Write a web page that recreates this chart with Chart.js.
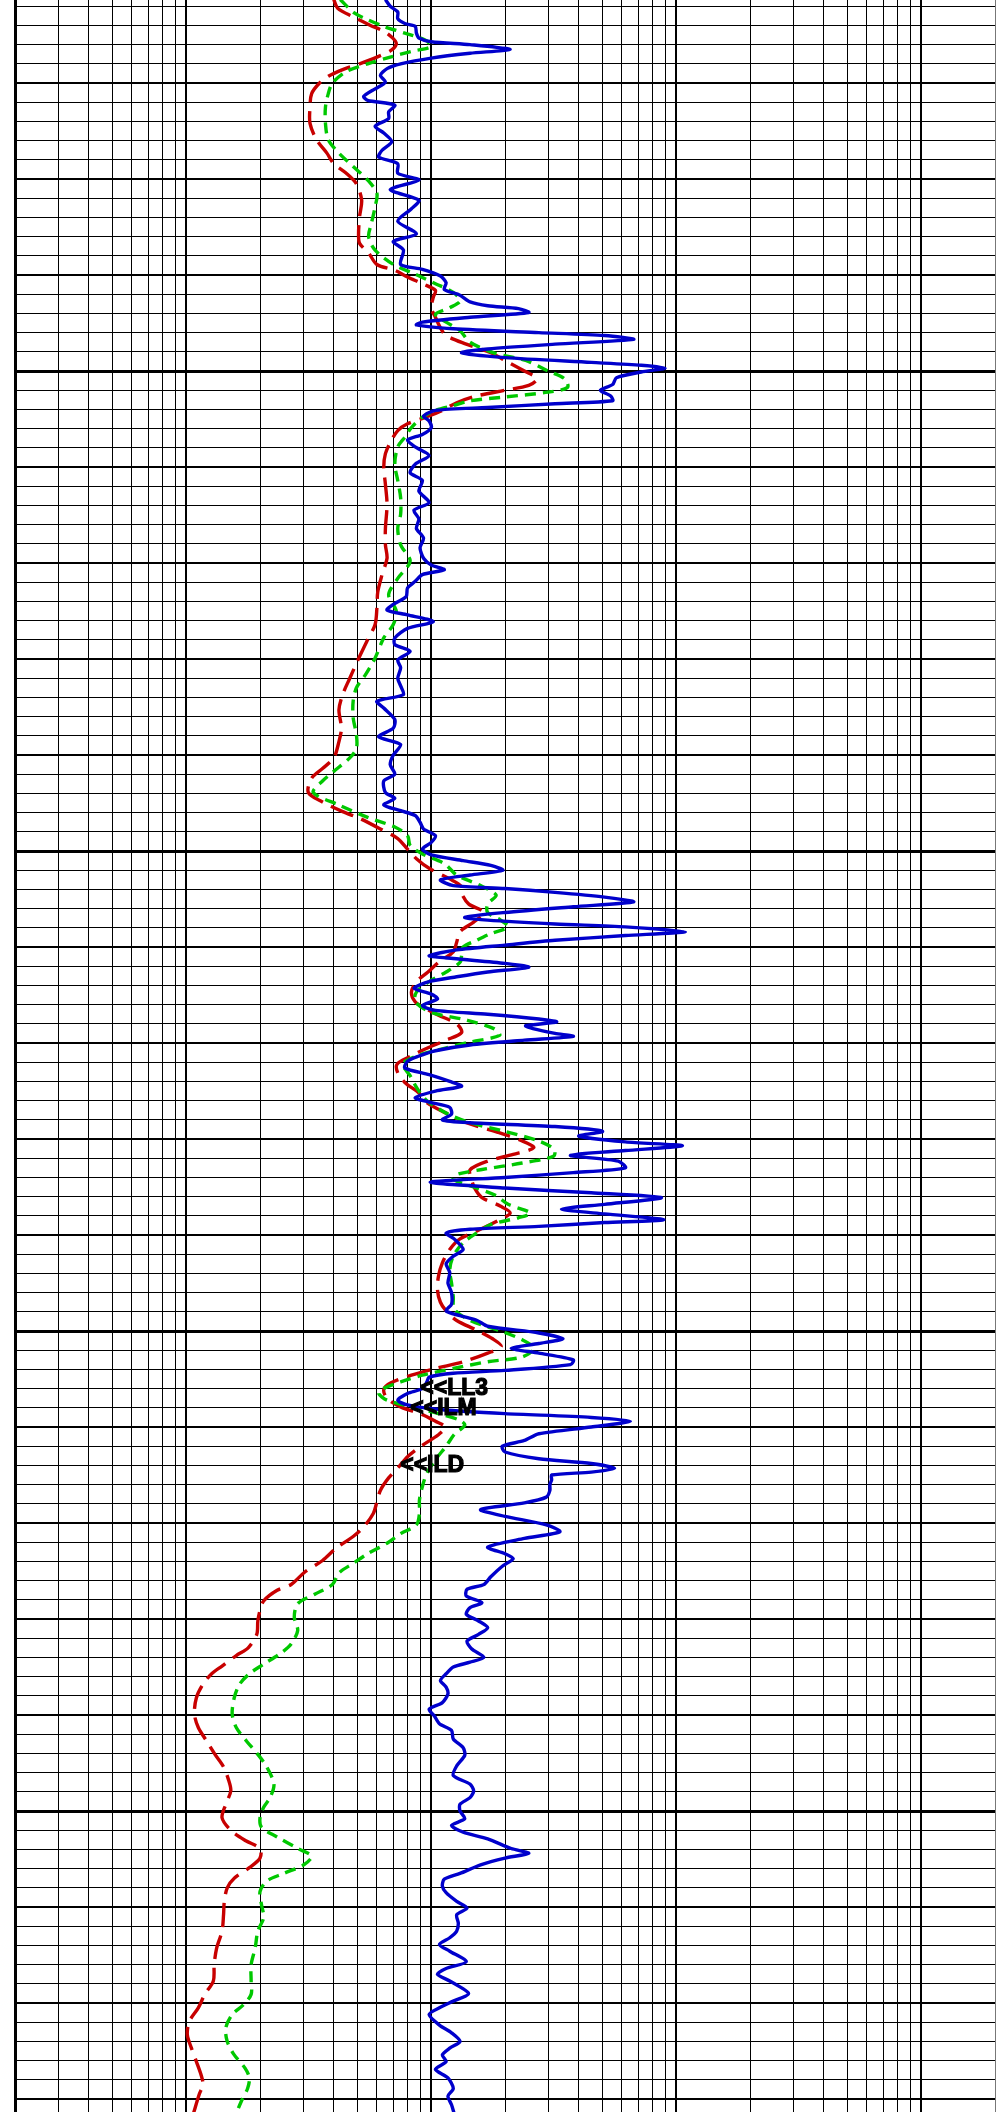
<!DOCTYPE html>
<html>
<head>
<meta charset="utf-8">
<script src="https://cdn.jsdelivr.net/npm/chart.js@4.4.1/dist/chart.umd.min.js"></script>
<style>
  html, body { margin: 0; padding: 0; background: #fff; }
  #wrap { width: 1003px; height: 2112px; position: relative; }
</style>
</head>
<body>
<div id="wrap"><canvas id="logChart"></canvas></div>
<script>
// Depth track (ft) and resistivity scale (ohm-m, log)
const depthTop = 4961.35;
const depthBottom = 5181.35;
const depthStep = 2;
const resMin = 0.2;
const resMax = 2000;
const resGrid = [0.2, 0.3, 0.4, 0.5, 0.6, 0.7, 0.8, 0.9,
  1, 2, 3, 4, 5, 6, 7, 8, 9,
  10, 20, 30, 40, 50, 60, 70, 80, 90,
  100, 200, 300, 400, 500, 600, 700, 800, 900,
  1000, 2000];

// LL3 - shallow laterolog
const ll3Depth = [4961.3, 4962.0, 4962.6, 4963.3, 4963.8, 4964.1, 4964.8, 4965.3, 4965.7, 4966.0,
  4966.5, 4966.9, 4967.4, 4968.0, 4968.5, 4969.2, 4969.9, 4970.6, 4971.4, 4971.8,
  4972.3, 4973.0, 4973.7, 4974.5, 4975.2, 4976.1, 4977.0, 4977.7, 4978.4, 4979.4,
  4980.1, 4981.1, 4982.2, 4983.1, 4984.4, 4985.7, 4986.5, 4987.4,
  4988.9, 4989.4, 4990.1, 4990.8, 4991.5, 4992.1, 4992.8, 4993.2, 4993.5, 4993.9,
  4994.4, 4994.9, 4995.2, 4995.6, 4996.0, 4996.3, 4996.7, 4997.2, 4997.7, 4998.1,
  4998.6, 4999.1, 4999.4, 4999.7, 5000.1, 5000.7, 5001.4, 5002.0, 5002.6, 5003.1,
  5003.4, 5003.8, 5004.1, 5004.7, 5005.2, 5005.9, 5006.6, 5007.2, 5007.9, 5008.8,
  5009.7, 5010.6, 5011.4, 5012.5, 5013.7, 5014.5, 5015.4,
  5016.4, 5017.4, 5018.4, 5019.5, 5020.2, 5020.7, 5021.2, 5021.9, 5022.6, 5023.5,
  5024.3, 5024.9, 5025.4, 5026.1, 5026.8, 5027.8, 5028.5, 5029.2, 5030.1, 5030.9,
  5032.0, 5032.8, 5033.7, 5034.4, 5035.1, 5036.3, 5037.2, 5038.1, 5038.9, 5040.0,
  5041.0, 5042.0, 5042.7,
  5043.9, 5044.5, 5045.2, 5045.8, 5046.3, 5047.0, 5047.7, 5048.4, 5049.1, 5049.8,
  5050.4, 5051.0, 5051.5, 5052.0, 5052.5, 5053.0, 5053.6, 5053.9, 5054.3, 5054.8,
  5055.3, 5055.8, 5056.4, 5056.9, 5057.2, 5057.6, 5057.9, 5058.4, 5058.8, 5059.3,
  5059.8, 5060.3, 5060.9, 5061.2, 5061.7, 5062.1, 5062.6, 5063.1, 5063.6, 5064.3,
  5064.9, 5065.4, 5066.1, 5066.6, 5067.0, 5067.5, 5067.8, 5068.2, 5068.5, 5069.0,
  5069.3, 5069.7, 5070.2, 5070.8,
  5071.4, 5071.9, 5072.6, 5073.3, 5074.0, 5074.5, 5075.0, 5075.7, 5076.2, 5076.7,
  5077.4, 5078.0, 5078.3, 5078.7, 5079.2, 5079.7, 5080.3, 5080.7, 5081.2, 5081.7,
  5082.3, 5083.0, 5083.5, 5084.0, 5084.5, 5085.1, 5085.6, 5086.1, 5086.8, 5087.3,
  5087.8, 5088.4, 5088.7, 5089.1, 5089.4, 5089.8, 5090.4, 5091.5, 5092.2, 5093.0,
  5093.9, 5095.0, 5096.0, 5097.2, 5097.9, 5098.4,
  5098.9, 5099.5, 5100.2, 5100.8, 5101.3, 5101.8, 5102.3, 5103.0, 5103.5, 5104.1,
  5104.4, 5104.8, 5105.3, 5106.0, 5106.5, 5107.2, 5107.7, 5108.2, 5108.6, 5109.0,
  5109.4, 5110.0, 5110.7, 5111.4, 5112.0, 5112.6, 5113.3, 5113.8, 5114.3, 5114.7,
  5115.0, 5115.5, 5116.0, 5116.6, 5117.3, 5117.9, 5118.6, 5119.3, 5120.2, 5120.9,
  5121.6, 5122.5, 5123.2, 5123.7, 5124.5, 5125.6,
  5126.4, 5126.9, 5127.6, 5128.3, 5128.8, 5129.5, 5130.2, 5130.9, 5131.6, 5132.3,
  5133.1, 5134.0, 5134.5, 5135.0, 5135.7, 5136.4, 5137.1, 5137.8, 5138.7, 5139.4,
  5140.1, 5140.9, 5141.6, 5142.5, 5143.4, 5144.2, 5145.3, 5146.3, 5147.2, 5147.9,
  5148.6, 5149.3, 5150.0, 5150.8, 5151.5, 5152.2, 5152.9,
  5153.9, 5154.4, 5154.9, 5155.6, 5156.5, 5157.1, 5157.8, 5158.5, 5159.4, 5160.1,
  5160.8, 5161.7, 5162.5, 5163.2, 5163.9, 5164.6, 5165.7, 5166.4, 5167.0, 5167.7,
  5169.0, 5169.8, 5170.5, 5171.2, 5172.3, 5173.1, 5174.0, 5174.7, 5175.4, 5176.1,
  5176.9, 5177.8, 5178.9, 5179.7, 5180.6, 5181.5];
const ll3Value = [6.5, 6.8, 7.3, 7.3, 7.8, 8.6, 8.7, 8.9, 10, 14.4,
  21, 14.4, 10, 7.5, 6.6, 6.2, 6.5, 5.9, 5.3, 5.5,
  7.1, 6.7, 6.7, 5.9, 6.4, 6.9, 6.3, 6.1, 7.3, 7.3,
  8.9, 6.8, 8.9, 8.3, 7.3, 8.7, 7.0, 7.7,
  7.5, 9.2, 10.9, 11.5, 11.3, 13.1, 14.4, 17, 22.7, 25,
  14.4, 9.2, 8.7, 12.3, 27.5, 51, 67, 32, 17, 13.3,
  20, 45, 72, 90, 72, 57, 55, 49, 54, 55,
  32, 17, 10.4, 9.3, 9.8, 10, 9.2, 8.0, 8.6, 9.8,
  8.6, 8.2, 9.2, 8.9, 9.8, 8.5, 8.9,
  8.7, 9.3, 9.0, 9.3, 10, 11.3, 9.2, 8.6, 8.0, 7.9,
  7.0, 6.6, 8.0, 10.2, 8.0, 7.1, 7.1, 8.2, 7.3, 7.5,
  7.3, 7.5, 7.7, 6.0, 6.4, 7.1, 7.0, 6.1, 7.5, 7.0,
  6.8, 7.1, 6.4,
  6.5, 7.1, 6.4, 7.5, 8.6, 9.0, 9.3, 10.4, 10, 9.2,
  10, 13.5, 17.5, 19.6, 14.4, 10.9, 12.3, 20, 32, 51,
  67, 38, 20, 13.7, 17, 32, 62, 109, 62, 32,
  20, 12.7, 9.8, 12.3, 20, 25, 17, 12.7, 9.8, 8.5,
  10, 10.6, 9.2, 10.4, 17, 27.5, 32.5, 24.3, 26, 32,
  38, 24, 14.4, 10.4,
  8.8, 8.0, 7.8, 9.8, 11.9, 13.3, 10.4, 8.6, 10, 11.9,
  12.1, 11.1, 14.4, 32, 50, 40, 62, 106, 62, 37,
  58, 62, 38, 20, 9.9, 20, 45, 87, 51, 34,
  51, 89, 51, 27.5, 14.4, 11.5, 12.4, 13.5, 12.3, 11.5,
  11.9, 11.7, 12.1, 12.1, 11.5, 13.1,
  15.4, 17, 27.5, 34.5, 27.5, 21.2, 27.5, 38, 37, 20,
  12.3, 9.8, 9.6, 9.2, 8.0, 7.3, 8.0, 11.1, 20, 45,
  65, 45, 27.5, 24, 19.5, 20, 27.5, 45, 56, 45,
  31, 31, 30.5, 30.5, 29.5, 24, 15.9, 20, 29.5, 33.5,
  24, 17, 20, 21.6, 19.5, 17.5,
  16.4, 14, 13.9, 16.1, 14.4, 13.9, 15.6, 17, 15.6, 14,
  14.6, 16.4, 14.4, 12.3, 11.5, 10.9, 11.5, 11.7, 11.1, 9.8,
  10.3, 10.8, 12.1, 12.3, 13.5, 13.7, 12.7, 12.3, 14.4, 14.9,
  14.4, 13.1, 13.1, 13.7, 12.1, 13.5, 17,
  21.2, 25, 20, 15.9, 13.1, 11.3, 11.1, 11.5, 12.7, 14,
  12.7, 12.9, 12.7, 11.9, 10.8, 11.9, 13.9, 11.5, 10.6, 11.9,
  14.2, 12.3, 10.8, 9.8, 10.8, 12.1, 13.1, 11.9, 11.1, 11.5,
  10.4, 11.7, 12.3, 11.7, 12.1, 12.4];

// ILM - medium induction
const ilmDepth = [4961.3, 4962.7, 4963.4, 4964.1, 4964.8, 4965.5, 4966.2, 4966.7, 4967.3, 4968.0,
  4968.8, 4970.0, 4971.1, 4972.5, 4974.2, 4975.9, 4977.3, 4978.7, 4980.1, 4981.5,
  4982.9, 4984.6, 4986.0, 4987.4,
  4988.9, 4989.9, 4990.9, 4991.8, 4992.7, 4993.4, 4994.1, 4994.9, 4995.8, 4997.0,
  4998.1, 4998.9, 5000.0, 5000.8, 5001.7, 5002.2, 5002.7, 5003.1, 5003.6, 5004.1,
  5004.8, 5005.9, 5006.9, 5007.9, 5009.7, 5011.4, 5013.2, 5014.9,
  5016.4, 5018.1, 5019.8, 5021.6, 5023.3, 5025.0, 5026.4, 5027.8, 5029.9, 5031.6,
  5033.0, 5034.4, 5036.1, 5037.9, 5039.3, 5040.3, 5041.7, 5042.7,
  5043.9, 5045.2, 5046.5, 5047.5, 5048.4, 5049.4, 5050.3, 5051.3, 5052.5, 5053.6,
  5054.6, 5055.5, 5056.4, 5057.2, 5057.9, 5058.6, 5059.3, 5060.0, 5060.9, 5061.6,
  5062.6, 5063.6, 5064.7, 5065.7, 5066.8, 5067.6, 5068.5, 5069.2, 5069.9, 5070.6,
  5071.4, 5072.2, 5073.4, 5074.6, 5075.9, 5077.3, 5078.3, 5079.2, 5080.2, 5081.1,
  5081.8, 5082.5, 5083.2, 5083.7, 5084.2, 5085.1, 5085.9, 5086.8, 5087.7, 5088.2,
  5088.9, 5089.8, 5090.8, 5092.2, 5093.6, 5095.0, 5096.4, 5097.7,
  5098.9, 5099.9, 5100.9, 5101.8, 5102.7, 5103.2, 5103.9, 5104.6, 5105.3, 5106.0,
  5106.5, 5107.2, 5107.9, 5108.6, 5109.3, 5109.8, 5110.8, 5112.0, 5113.4, 5114.8,
  5116.2, 5117.6, 5119.0, 5120.2, 5121.1, 5122.1, 5123.2, 5124.2, 5125.2,
  5126.4, 5127.4, 5128.4, 5129.8, 5131.2, 5132.6, 5133.6, 5134.7, 5135.7, 5136.8,
  5138.2, 5139.9, 5141.3, 5142.7, 5144.1, 5145.4, 5147.2, 5148.6, 5149.6, 5150.7,
  5151.7, 5152.7,
  5153.9, 5154.7, 5155.6, 5156.5, 5157.3, 5158.4, 5159.8, 5161.1, 5162.5, 5164.3,
  5166.0, 5167.7, 5169.1, 5170.2, 5171.2, 5172.6, 5174.0, 5175.4, 5176.8, 5177.8,
  5178.9, 5180.2, 5181.5];
const ilmValue = [4.25, 4.85, 5.5, 6.4, 7.8, 9.4, 10.0, 8.3, 6.8, 5.5,
  4.5, 3.95, 3.8, 3.7, 3.7, 3.8, 4.2, 4.8, 5.5, 6.0,
  5.9, 5.7, 5.55, 5.9,
  7.0, 8.6, 10.4, 12.3, 13.1, 11.9, 10.4, 11.5, 13.1, 14.4,
  18, 24.3, 30, 35, 36, 30, 20, 14.4, 12.3, 10.4,
  9.2, 8.3, 7.8, 7.3, 7.1, 7.3, 7.5, 7.5,
  7.3, 7.5, 8.2, 7.3, 6.7, 7.2, 7.0, 6.4, 5.9, 5.4,
  4.95, 4.8, 4.8, 4.95, 4.95, 4.65, 4.0, 3.6,
  3.3, 4.2, 5.5, 7.1, 8.0, 8.2, 9.2, 11.3, 12.7, 15.9,
  18.4, 17, 17, 19.2, 20.6, 17.5, 15.3, 13.5, 13.3, 13.1,
  11.5, 9.8, 8.7, 8.6, 10, 13.9, 18, 19, 14.4, 11.1,
  8.6, 7.65, 8.2, 8.7, 9.5, 11.5, 14.4, 20, 27.5, 31.8,
  31.5, 23.5, 15.9, 12.7, 12.3, 15.3, 18.4, 20.6, 25.4, 22.7,
  17.5, 15.3, 13.5, 12.3, 11.9, 12.1, 12.3, 12.4,
  14.4, 18.7, 23.5, 26.2, 23.5, 17, 12.3, 9.2, 7.5, 6.35,
  6.1, 6.6, 8.3, 10.7, 13.1, 13.7, 12.4, 11.5, 10.4, 9.6,
  9.2, 8.95, 8.95, 8.7, 7.5, 6.6, 5.5, 4.8, 4.2,
  3.95, 3.36, 2.85, 2.76, 2.85, 2.68, 2.42, 2.07, 1.81, 1.65,
  1.57, 1.54, 1.6, 1.76, 1.96, 2.13, 2.28, 2.2, 2.07, 2.0,
  2.03, 2.35,
  2.85, 3.25, 3.02, 2.5, 2.13, 2.0, 2.03, 2.07, 1.96, 1.91,
  1.84, 1.84, 1.84, 1.71, 1.54, 1.45, 1.47, 1.57, 1.74, 1.81,
  1.78, 1.68, 1.6];

// ILD - deep induction
const ildDepth = [4961.3, 4962.2, 4963.1, 4964.0, 4964.6, 4965.3, 4965.9, 4966.6, 4967.3, 4968.0,
  4968.6, 4969.3, 4970.0, 4971.1, 4972.5, 4974.2, 4975.9, 4977.3, 4978.4, 4979.4,
  4980.5, 4982.2, 4983.9, 4985.7, 4986.7, 4987.7,
  4988.9, 4989.5, 4990.2, 4990.9, 4991.6, 4992.3, 4993.4, 4994.4, 4995.5, 4996.3,
  4997.2, 4998.1, 4998.9, 5000.0, 5000.8, 5001.5, 5002.0, 5002.6, 5003.3, 5004.1,
  5004.8, 5005.5, 5006.2, 5007.3, 5008.6, 5010.0, 5011.8, 5013.9,
  5016.4, 5018.1, 5019.5, 5021.2, 5023.0, 5024.7, 5026.4, 5028.2, 5030.2, 5032.0,
  5033.7, 5035.3, 5037.2, 5038.6, 5040.3, 5041.4, 5042.4,
  5043.9, 5044.9, 5045.9, 5046.6, 5047.7, 5048.7, 5049.8, 5050.8, 5051.8, 5052.9,
  5053.7, 5054.4, 5055.5, 5056.4, 5057.4, 5058.4, 5059.5, 5060.5, 5061.6, 5062.6,
  5063.6, 5064.7, 5065.7, 5066.4, 5067.1, 5068.0, 5068.9, 5069.7, 5070.6,
  5071.4, 5072.2, 5073.1, 5074.1, 5075.2, 5076.2, 5077.3, 5078.3, 5079.3, 5080.2,
  5080.9, 5081.6, 5082.3, 5083.2, 5084.2, 5085.2, 5086.1, 5087.0, 5087.7, 5088.5,
  5089.6, 5090.4, 5091.5, 5092.9, 5094.3, 5095.7, 5097.0, 5097.9,
  5098.9, 5099.9, 5100.8, 5101.6, 5102.3, 5103.2, 5103.9, 5104.6, 5105.4, 5106.1,
  5107.0, 5107.9, 5108.7, 5109.4, 5110.0, 5110.8, 5111.9, 5113.1, 5114.1, 5115.3,
  5116.6, 5117.8, 5119.0, 5120.4, 5121.4, 5122.6, 5123.9, 5125.1,
  5126.4, 5127.0, 5128.1, 5129.1, 5130.2, 5131.6, 5133.0, 5133.8, 5134.9, 5135.7,
  5136.8, 5138.2, 5139.9, 5141.3, 5142.7, 5144.1, 5145.4, 5146.8, 5147.9, 5149.3,
  5150.7, 5152.0, 5153.1,
  5153.9, 5154.9, 5155.9, 5157.0, 5158.0, 5159.4, 5160.8, 5162.5, 5164.3, 5166.0,
  5167.7, 5169.1, 5170.5, 5171.9, 5173.3, 5174.7, 5176.1, 5177.5, 5178.5, 5179.5,
  5181.5];
const ildValue = [4.0, 4.15, 4.8, 5.65, 6.4, 6.95, 7.2, 6.85, 6.0, 5.1,
  4.35, 3.8, 3.5, 3.25, 3.2, 3.2, 3.4, 3.75, 4.0, 4.5,
  4.95, 5.2, 5.1, 5.05, 5.1, 5.55,
  6.0, 7.1, 8.0, 9.2, 10.4, 10.2, 10.0, 10.4, 10.9, 11.5,
  13.9, 17.5, 20, 24, 27, 25, 20, 15.3, 12.7, 11.1,
  9.5, 8.0, 7.3, 6.85, 6.5, 6.4, 6.5, 6.6,
  6.5, 6.5, 6.6, 6.3, 6.05, 6.0, 5.9, 5.45, 5.0, 4.65,
  4.35, 4.2, 4.3, 4.2, 4.0, 3.6, 3.25,
  3.15, 3.6, 4.35, 5.1, 6.2, 7.3, 8.0, 8.7, 9.8, 11.9,
  13.3, 13.3, 14.2, 16.4, 14.9, 13.1, 12.7, 12.3, 10.7, 9.7,
  8.7, 8.3, 8.6, 9.5, 10.7, 12.7, 13.3, 11.5, 9.5,
  8.2, 7.25, 7.3, 7.8, 8.9, 9.6, 11.5, 13.9, 18.7, 23.5,
  26.2, 21.6, 17, 14.4, 14.6, 15.1, 16.1, 19.2, 21, 18.7,
  15.3, 13.1, 11.9, 11.1, 10.7, 10.6, 10.9, 11.5,
  12.7, 15.3, 17.8, 19.3, 17, 13.5, 10.4, 8.3, 6.85, 6.4,
  6.6, 7.5, 9.2, 10.4, 11.4, 10.7, 9.2, 8.0, 7.4, 6.7,
  6.2, 6.0, 5.8, 5.3, 4.8, 4.1, 3.6, 3.05,
  2.68, 2.35, 2.07, 2.0, 1.96, 1.94, 1.79, 1.6, 1.4, 1.27,
  1.17, 1.1, 1.08, 1.12, 1.21, 1.31, 1.42, 1.49, 1.52, 1.45,
  1.4, 1.52, 1.75,
  2.0, 2.0, 1.81, 1.57, 1.47, 1.43, 1.42, 1.4, 1.33, 1.3,
  1.29, 1.19, 1.12, 1.03, 1.01, 1.05, 1.1, 1.15, 1.17, 1.13,
  1.07];

// curve tags, anchored at the curve
const tagText = ["<<LL3", "<<ILM", "<<ILD"];
const tagValue = [9.02, 8.21, 7.47];
const tagDepth = [5106.05, 5108.07, 5114.06];

const depthGrid = [];
for (let d = Math.ceil(depthTop / depthStep) * depthStep; d <= depthBottom; d += depthStep) depthGrid.push(d);

function toPoints(depths, values) {
    return depths.map((d, i) => ({ x: values[i], y: d }));
}

// Ecrit les étiquettes des courbes
const tagPlugin = {
    id: "curveTags",
    afterDatasetsDraw(chart) {
        const { ctx, scales } = chart;
        ctx.save();
        ctx.font = "bold 23px 'Liberation Sans', Arial, sans-serif";
        ctx.fillStyle = "#000";
        ctx.strokeStyle = "#000";
        ctx.lineWidth = 1.2;
        ctx.textBaseline = "middle";
        ctx.textAlign = "left";
        tagText.forEach((t, i) => {
            const px = scales.x.getPixelForValue(tagValue[i]);
            const py = scales.y.getPixelForValue(tagDepth[i]);
            ctx.fillText(t, px, py);
            ctx.strokeText(t, px, py);
        });
        ctx.restore();
    }
};

const ctx = document.getElementById("logChart").getContext("2d");

const logChart = new Chart(ctx, {
    type: "scatter",
    data: {
        datasets: [
            { label: "LL3", data: toPoints(ll3Depth, ll3Value), showLine: true, borderColor: "#0000cc",
              borderWidth: 3.4, pointRadius: 0, tension: 0.25 },
            { label: "ILM", data: toPoints(ilmDepth, ilmValue), showLine: true, borderColor: "#00c800",
              borderWidth: 3.4, borderDash: [11, 7], pointRadius: 0, tension: 0.3 },
            { label: "ILD", data: toPoints(ildDepth, ildValue), showLine: true, borderColor: "#c80000",
              borderWidth: 3.4, borderDash: [24, 9], pointRadius: 0, tension: 0.3 }
        ]
    },
    options: {
        responsive: true,
        maintainAspectRatio: false,
        animation: false,
        layout: { padding: { left: 15, right: 8, top: 0, bottom: 0 }, autoPadding: false },
        plugins: { legend: { display: false }, tooltip: { enabled: false } },
        scales: {
            x: {
                type: "logarithmic",
                min: resMin,
                max: resMax,
                afterBuildTicks: (scale) => { scale.ticks = resGrid.map(v => ({ value: v })); },
                ticks: { display: false },
                border: { display: false },
                grid: {
                    drawTicks: false,
                    color: (c) => (c.tick && c.tick.value === resMax ? "#777" : "#000"),
                    lineWidth: (c) => {
                        const v = c.tick ? c.tick.value : 0;
                        if (v === resMin) return 3;
                        if (v === 1 || v === 10 || v === 100 || v === 1000) return 2;
                        return 1;
                    }
                }
            },
            y: {
                type: "linear",
                reverse: true,
                min: depthTop,
                max: depthBottom,
                afterBuildTicks: (scale) => { scale.ticks = depthGrid.map(v => ({ value: v })); },
                ticks: { display: false },
                border: { display: false },
                grid: {
                    drawTicks: false,
                    color: "#000",
                    lineWidth: (c) => {
                        const d = c.tick ? Math.round(c.tick.value) : 1;
                        if (d % 50 === 0) return 3;
                        if (d % 10 === 0) return 2;
                        return 1;
                    }
                }
            }
        }
    },
    plugins: [tagPlugin]
});
</script>
</body>
</html>
